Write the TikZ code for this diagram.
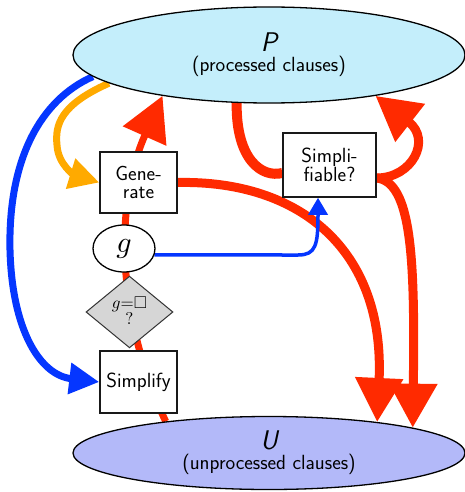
\documentclass[tikz,border=0pt]{standalone}
\usepackage{graphicx}
\usepackage{amssymb}
\usetikzlibrary{shapes.geometric,arrows.meta,backgrounds}

\definecolor{procfill}{HTML}{C4EEFB}
\definecolor{unprocfill}{HTML}{B3B9F9}
\definecolor{flowred}{HTML}{FF2A00}
\definecolor{flowblue}{HTML}{0536FF}
\definecolor{floworange}{HTML}{FFAA00}
\definecolor{testgray}{HTML}{D6D6D6}

\tikzset{
  sans/.style={font=\sffamily\fontsize{20.5}{18.5}\selectfont},
  clauseset/.style={ellipse, draw=black, line width=1.3pt, minimum width=392pt,
    inner sep=0pt, align=center, sans},
  stepbox/.style={rectangle, draw=black!90, line width=1.5pt, fill=white,
    align=center, inner sep=0pt, sans},
  clausenode/.style={ellipse, draw=black, line width=1.3pt, fill=white,
    minimum width=62pt, minimum height=47pt, inner sep=0pt},
  emptytest/.style={diamond, draw=black!80, line width=1pt, fill=testgray,
    minimum width=87pt, minimum height=62pt, inner sep=0pt},
  redflow/.style={draw=flowred, line width=9pt, -{Triangle[length=44pt,width=46pt]}},
  spineflow/.style={redflow, line width=7pt},
  plainred/.style={draw=flowred, line width=10pt},
  blueflow/.style={draw=flowblue, line width=7pt, -{Triangle[length=30pt,width=30pt]}},
  orangeflow/.style={draw=floworange, line width=7pt, -{Triangle[length=30pt,width=30pt]}},
  thinblue/.style={draw=flowblue, line width=3.5pt, -{Triangle[length=17pt,width=19pt]}},
}

\begin{document}
\begin{tikzpicture}[x=1pt, y=-1pt]
  \useasboundingbox (0,0) rectangle (465,492);

  % clause sets
  \node[clauseset, fill=procfill, minimum height=96pt] (P) at (269,55)
    {{\fontsize{27}{18.5}\selectfont\itshape P}\\[1.5pt](processed clauses)};
  \node[clauseset, fill=unprocfill, minimum height=73pt] (U) at (269,453)
    {{\fontsize{27}{18.5}\selectfont\itshape U}\\[1.5pt](unprocessed clauses)};

  % processing steps
  \node[stepbox, minimum width=77pt, minimum height=61pt] (gen) at (138.5,182.5) {Gene-\\rate};
  \node[clausenode] (g) at (124,248.5) {\scalebox{3}{$g$}};
  \node[emptytest] (empty) at (129.5,312)
    {\scalebox{1.7}{\begin{tabular}{@{}c@{}}$g{=}\square$\\[-2.5pt]?\end{tabular}}};
  \node[stepbox, minimum width=77pt, minimum height=62pt] (simp) at (138.5,382) {Simplify};
  \node[stepbox, minimum width=93pt, minimum height=64pt] (canS) at (329.5,165) {Simpli-\\fiable?};

  \begin{scope}[on background layer]
    \fill[white] (0,0) rectangle (465,492);

    % main loop: U -> simplify -> test -> g -> generate -> P
    \draw[spineflow] (U.163) .. controls (114,310) and (116,200) .. (P.201);
    % generated clauses go to U
    \draw[redflow] (gen.east) .. controls (300,180) and (385,250) .. (U.16);
    % P clauses checked for simplification
    \draw[plainred] (P.236) .. controls (236,160) and (262,178) .. ([yshift=-8pt]canS.west);
    \draw[redflow] ([yshift=-13pt]canS.east) .. controls (412,178) and (432,140) .. (P.339);
    \draw[redflow] ([yshift=-13pt]canS.east) .. controls (412,182) and (415,260) .. (U.10);

    % P used by generate and simplify
    \draw[blueflow] (P.187) .. controls (40,100) and (8,160) .. (10,250)
      .. controls (12,330) and (40,375) .. (simp.west);
    \draw[orangeflow] (P.190) .. controls (60,105) and (55,125) .. (57,145)
      .. controls (58,165) and (75,175) .. (gen.west);
    \draw[thinblue] (g.348) -- (298,255) .. controls (316,255) and (318,245)
      .. ([xshift=-11.5pt]canS.south);
  \end{scope}
\end{tikzpicture}
\end{document}
